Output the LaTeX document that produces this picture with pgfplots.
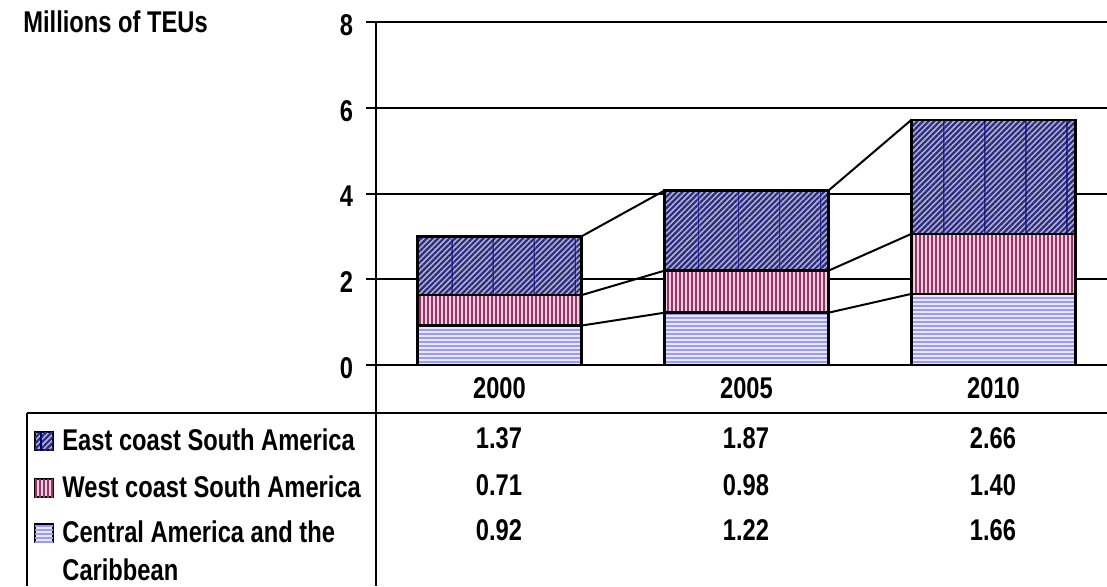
\documentclass[border=0pt]{standalone}
\usepackage{pgfplots}
\pgfplotsset{compat=1.18}
\usepackage{fontspec}
\setmainfont{Liberation Sans}[FakeStretch=0.79]
\usetikzlibrary{patterns.meta}

\definecolor{eastfill}{HTML}{B4B4C4}
\definecolor{eastline}{HTML}{2A2A88}
\definecolor{eastrule}{HTML}{000080}
\definecolor{westfill}{HTML}{F0D0E0}
\definecolor{westline}{HTML}{993366}
\definecolor{centfill}{HTML}{E8E8FF}
\definecolor{centline}{HTML}{9999FF}

\tikzset{
  eaststy/.style={fill=eastfill,
    postaction={pattern={Lines[angle=45,distance=2pt,line width=1.1pt]}, pattern color=eastline},
    postaction={pattern={Lines[angle=90,distance=20.5pt,line width=0.6pt]}, pattern color=eastrule}},
  weststy/.style={fill=westfill,
    postaction={pattern={Lines[angle=90,distance=2pt,line width=1pt]}, pattern color=westline}},
  centsty/.style={fill=centfill,
    postaction={pattern={Lines[angle=0,distance=2pt,line width=0.8pt]}, pattern color=centline}},
  txt/.style={font=\fontsize{15}{18}\selectfont\bfseries, inner sep=0pt},
}

\pgfplotsset{
  frame/.style={
    at={(188pt,-182.5pt)}, anchor=south west,
    scale only axis, width=370.5pt, height=171.5pt,
    xmin=-0.5, xmax=2.5, ymin=0, ymax=8, clip=false,
  },
}

\begin{document}
\begin{tikzpicture}
  \begin{axis}[
      frame,
      ybar stacked, bar width=0.664,
      axis lines*=left,
      axis line style={line width=1.25pt},
      xtick={0,1,2}, xticklabels={2000,2005,2010},
      major x tick style={draw=none},
      ytick={0,2,4,6,8},
      tick align=outside, major tick length=5pt,
      major y tick style={black, line width=1pt},
      ymajorgrids, grid style={black, line width=1pt},
      ticklabel style={font=\fontsize{15}{18}\selectfont\bfseries},
      /pgf/number format/assume math mode=true,
      xticklabel style={anchor=base, yshift=-11.5pt},
      yticklabel style={anchor=east, xshift=-3pt, yshift=-1.5pt},
    ]
    % Central America and the Caribbean
    \addplot[centsty, draw=black, line width=1.25pt] coordinates {(0,0.92) (1,1.22) (2,1.66)};
    % West coast South America
    \addplot[weststy, draw=black, line width=1.25pt] coordinates {(0,0.71) (1,0.98) (2,1.40)};
    % East coast South America
    \addplot[eaststy, draw=black, line width=1.25pt] coordinates {(0,1.37) (1,1.87) (2,2.66)};
  \end{axis}

  % series lines between the stacks (cumulative levels)
  \begin{axis}[frame, hide axis, unbounded coords=jump]
    \addplot[black, line width=1pt] coordinates {(0.332,0.92) (0.668,1.22) (1,nan) (1.332,1.22) (1.668,1.66)};
    \addplot[black, line width=1pt] coordinates {(0.332,1.63) (0.668,2.20) (1,nan) (1.332,2.20) (1.668,3.06)};
    \addplot[black, line width=1pt] coordinates {(0.332,3.00) (0.668,4.07) (1,nan) (1.332,4.07) (1.668,5.72)};
  \end{axis}

  % data table under the chart
  \begin{scope}[x=0.5pt, y=-0.5pt]
    \draw[line width=1.25pt] (366,365) -- (1107,365);
    \draw[line width=1.25pt] (376,365) -- (376,586);
    \draw[line width=1pt] (27,413) -- (1107,413);
    \draw[line width=1pt] (27,413) -- (27,586);

    \node[txt, anchor=base west] at (23,32) {Millions of TEUs};

    \path[eaststy, draw=black, line width=1pt] (35,432) rectangle (53,450);
    \path[weststy, draw=black, line width=1pt] (35,479) rectangle (53,497);
    \path[centsty, draw=black, line width=1pt] (35,524) rectangle (53,542);

    \node[txt, anchor=base west] at (62,450) {East coast South America};
    \node[txt, anchor=base west] at (62,497) {West coast South America};
    \node[txt, anchor=base west] at (62,542) {Central America and the};
    \node[txt, anchor=base west] at (62,580) {Caribbean};

    \node[txt, anchor=base] at (499,448) {1.37};
    \node[txt, anchor=base] at (746,448) {1.87};
    \node[txt, anchor=base] at (993,448) {2.66};
    \node[txt, anchor=base] at (499,495) {0.71};
    \node[txt, anchor=base] at (746,495) {0.98};
    \node[txt, anchor=base] at (993,495) {1.40};
    \node[txt, anchor=base] at (499,540) {0.92};
    \node[txt, anchor=base] at (746,540) {1.22};
    \node[txt, anchor=base] at (993,540) {1.66};
  \end{scope}

  \pgfresetboundingbox
  \useasboundingbox (0,0) rectangle (553.5pt,-293pt);
\end{tikzpicture}
\end{document}
